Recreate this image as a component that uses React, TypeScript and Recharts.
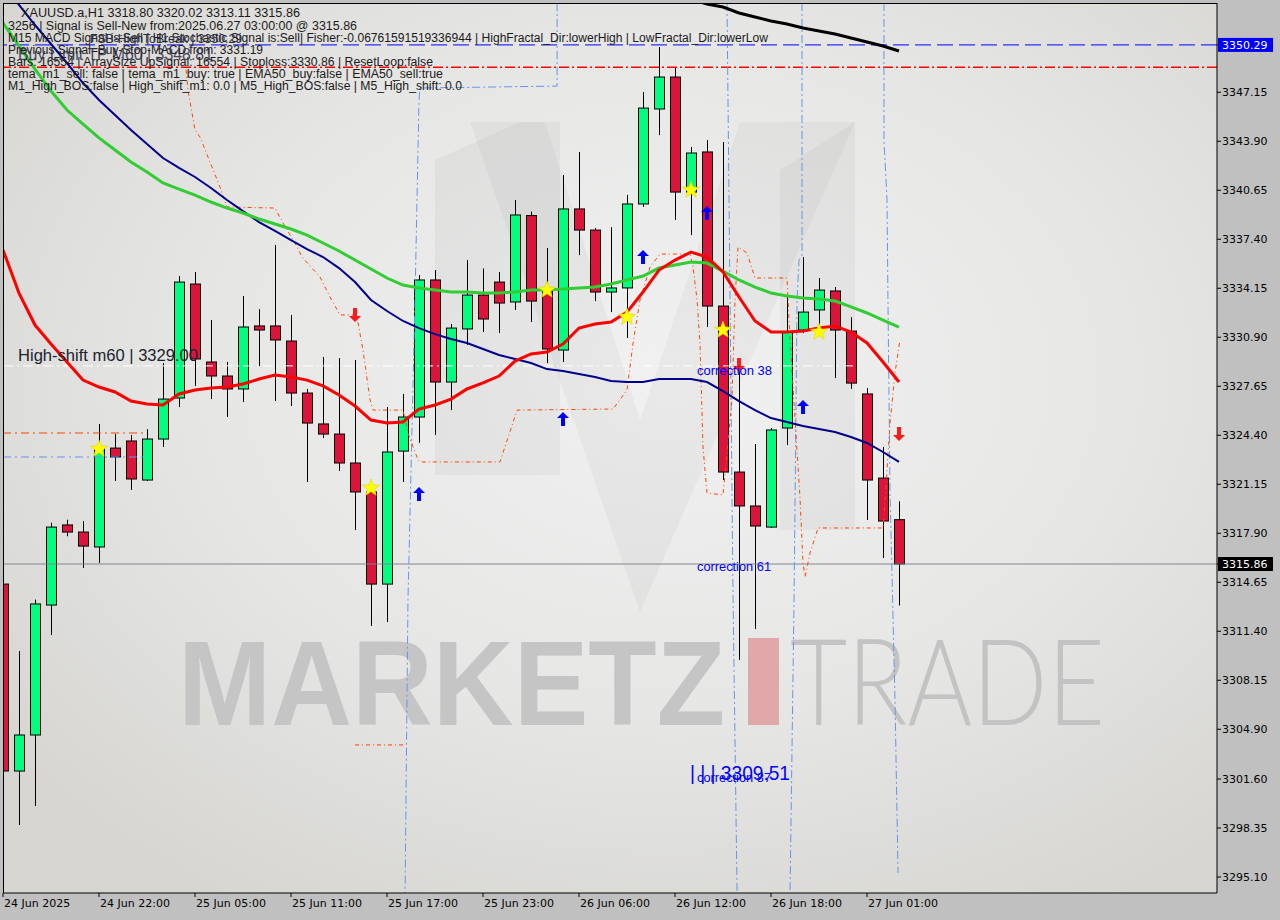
import React from 'react';
import { ComposedChart, Bar, Line, Scatter, XAxis, YAxis, ReferenceLine } from 'recharts';

// XAUUSD.a H1, 24 Jun 16:00 .. 27 Jun 03:00 (57 bars)
const opens = [
  3314.53, 3302.13, 3304.52, 3313.14, 3318.45, 3317.98, 3316.99, 3323.55, 3324.02, 3321.43,
  3324.15, 3326.87, 3334.43, 3329.26, 3328.33, 3327.47, 3331.65, 3331.65, 3330.65, 3327.2,
  3325.15, 3324.48, 3322.56, 3320.64, 3314.53, 3323.35, 3325.61, 3334.7, 3327.93, 3331.45,
  3333.7, 3334.56, 3333.24, 3338.97, 3334.17, 3330.05, 3339.41, 3338.01, 3333.9, 3334.17,
  3339.74, 3346.04, 3348.16, 3340.53, 3343.19, 3332.97, 3321.96, 3319.71, 3318.31, 3324.88,
  3331.38, 3332.71, 3333.97, 3331.31, 3327.14, 3321.56, 3318.8,
];
const highs = [
  3317.92, 3310.09, 3313.5, 3318.6, 3318.8, 3318.71, 3325.15, 3324.48, 3324.42, 3324.81,
  3329.19, 3334.96, 3335.23, 3332.04, 3329.26, 3333.64, 3332.77, 3337.02, 3332.38, 3327.47,
  3329.59, 3329.52, 3329.39, 3321.17, 3326.27, 3327.14, 3335.03, 3335.36, 3331.78, 3336.02,
  3335.46, 3335.23, 3340.0, 3339.24, 3336.82, 3341.66, 3343.19, 3338.15, 3338.21, 3340.34,
  3347.17, 3350.15, 3348.76, 3343.52, 3343.98, 3343.85, 3329.26, 3323.82, 3324.88, 3333.64,
  3336.22, 3334.83, 3334.23, 3332.24, 3327.53, 3323.62, 3320.02,
];
const lows = [
  3295.23, 3298.55, 3299.81, 3311.15, 3317.7, 3315.6, 3315.93, 3321.37, 3320.77, 3321.37,
  3323.62, 3326.27, 3327.67, 3326.8, 3325.61, 3326.6, 3328.99, 3326.67, 3326.34, 3321.3,
  3324.22, 3322.03, 3318.11, 3311.75, 3312.01, 3321.3, 3323.89, 3324.42, 3326.07, 3330.39,
  3331.25, 3331.18, 3332.71, 3331.91, 3329.19, 3329.26, 3336.35, 3333.3, 3332.57, 3330.85,
  3339.54, 3344.31, 3338.68, 3337.68, 3331.58, 3321.43, 3309.49, 3311.55, 3318.25, 3323.75,
  3331.18, 3331.38, 3328.19, 3327.47, 3318.78, 3316.26, 3313.11,
];
const closes = [
  3302.13, 3304.52, 3313.21, 3318.31, 3317.98, 3317.05, 3323.55, 3322.96, 3321.5, 3324.15,
  3326.8, 3334.56, 3329.46, 3328.33, 3327.47, 3331.58, 3331.38, 3330.72, 3327.2, 3325.21,
  3324.48, 3322.56, 3320.64, 3314.53, 3323.29, 3325.61, 3334.7, 3327.93, 3331.51, 3333.7,
  3332.11, 3333.17, 3339.01, 3333.3, 3330.12, 3339.41, 3338.01, 3333.9, 3334.17, 3339.74,
  3346.1, 3348.16, 3340.53, 3343.12, 3332.97, 3321.96, 3319.71, 3318.38, 3324.75, 3331.25,
  3332.57, 3334.03, 3331.38, 3327.86, 3321.43, 3318.71, 3315.86,
];

const emaGreen = [
  3351.74, 3350.22, 3348.69, 3347.23, 3345.97, 3345.04, 3344.12, 3343.32, 3342.52, 3341.86,
  3341.13, 3340.73, 3340.33, 3339.87, 3339.47, 3339.14, 3338.74, 3338.41, 3338.08, 3337.68,
  3337.15, 3336.62, 3336.02, 3335.43, 3334.83, 3334.36, 3334.17, 3334.03, 3333.9, 3333.9,
  3333.83, 3333.83, 3333.9, 3334.03, 3334.03, 3334.1, 3334.17, 3334.23, 3334.43, 3334.7,
  3334.96, 3335.49, 3335.69, 3335.89, 3335.82, 3335.29, 3334.7, 3334.23, 3333.83, 3333.64,
  3333.5, 3333.44, 3333.3, 3332.91, 3332.51, 3332.04, 3331.58,
];
const maNavy = [
  3354.2, 3352.94, 3351.61, 3350.35, 3349.09, 3347.76, 3346.64, 3345.64, 3344.65, 3343.72,
  3342.79, 3342.13, 3341.53, 3340.8, 3340.0, 3339.27, 3338.54, 3337.95, 3337.35, 3336.75,
  3336.22, 3335.49, 3334.56, 3333.37, 3332.64, 3331.98, 3331.51, 3331.11, 3330.78, 3330.52,
  3330.12, 3329.72, 3329.46, 3329.19, 3328.79, 3328.66, 3328.46, 3328.26, 3328.0, 3327.93,
  3327.93, 3328.13, 3328.13, 3328.13, 3327.93, 3327.33, 3326.67, 3326.07, 3325.54, 3325.28,
  3325.01, 3324.81, 3324.62, 3324.28, 3323.89, 3323.29, 3322.63,
];
const emaRed = [
  3336.69, 3333.83, 3331.71, 3330.45, 3329.26, 3328.06, 3327.6, 3327.27, 3326.67, 3326.47,
  3326.41, 3327.14, 3327.4, 3327.53, 3327.6, 3327.8, 3328.13, 3328.4, 3328.26, 3328.06,
  3327.67, 3327.07, 3326.34, 3325.41, 3325.21, 3325.28, 3326.14, 3326.41, 3326.8, 3327.47,
  3327.87, 3328.33, 3329.32, 3329.79, 3329.92, 3330.45, 3331.51, 3331.78, 3331.91, 3332.57,
  3333.9, 3335.36, 3336.02, 3336.55, 3336.22, 3335.23, 3333.57, 3331.98, 3331.25, 3331.25,
  3331.31, 3331.51, 3331.65, 3331.25, 3330.52, 3329.26, 3327.93,
];
const maBlack: (number | null)[] = [
  null, null, null, null, null, null, null, null, null, null,
  null, null, null, null, null, null, null, null, null, null,
  null, null, null, null, null, null, null, null, null, null,
  null, null, null, null, null, null, null, null, null, null,
  null, null, null, 3353.33, 3353.0, 3352.8, 3352.41, 3352.14, 3351.88, 3351.68,
  3351.41, 3351.21, 3351.01, 3350.75, 3350.48, 3350.22, 3349.89,
];

// orange trailing stop (x = bar index, fractional where it steps)
const stopLine = [
  { x: 11.44, y: 3348.63 }, { x: 11.56, y: 3347.3 }, { x: 12.0, y: 3344.65 }, { x: 12.31, y: 3344.18 },
  { x: 13.56, y: 3340.87 }, { x: 14.0, y: 3339.54 }, { x: 17.0, y: 3339.47 }, { x: 17.5, y: 3338.48 },
  { x: 18.38, y: 3336.89 }, { x: 18.69, y: 3336.22 }, { x: 19.81, y: 3334.9 }, { x: 20.44, y: 3333.57 },
  { x: 21.06, y: 3332.38 }, { x: 22.0, y: 3332.38 }, { x: 22.19, y: 3331.85 }, { x: 22.5, y: 3330.05 },
  { x: 22.94, y: 3326.74 }, { x: 23.13, y: 3326.07 }, { x: 25.0, y: 3326.07 }, { x: 25.31, y: 3324.55 },
  { x: 25.94, y: 3322.76 }, { x: 26.06, y: 3322.63 }, { x: 31.06, y: 3322.63 }, { x: 32.13, y: 3326.07 },
  { x: 38.13, y: 3326.14 }, { x: 39.0, y: 3327.4 }, { x: 39.38, y: 3330.52 }, { x: 39.81, y: 3333.37 },
  { x: 40.44, y: 3335.56 }, { x: 41.06, y: 3336.42 }, { x: 42.94, y: 3336.42 }, { x: 43.13, y: 3335.56 },
  { x: 43.38, y: 3333.37 }, { x: 43.56, y: 3330.52 }, { x: 43.75, y: 3323.62 }, { x: 44.0, y: 3320.57 },
  { x: 45.0, y: 3320.44 }, { x: 45.25, y: 3323.22 }, { x: 45.56, y: 3326.74 }, { x: 45.75, y: 3333.37 },
  { x: 45.94, y: 3336.89 }, { x: 46.5, y: 3336.49 }, { x: 47.0, y: 3334.83 }, { x: 49.0, y: 3334.83 },
  { x: 49.19, y: 3330.72 }, { x: 49.81, y: 3320.3 }, { x: 50.0, y: 3315.93 }, { x: 50.13, y: 3315.0 },
  { x: 50.44, y: 3316.59 }, { x: 50.94, y: 3318.25 }, { x: 55.0, y: 3318.25 }, { x: 55.13, y: 3320.11 },
  { x: 55.44, y: 3325.21 }, { x: 55.75, y: 3328.53 }, { x: 56.06, y: 3330.72 },
];
const stopLow = [
  { x: 22.0, y: 3303.86 }, { x: 25.0, y: 3303.86 },
];

// cornflower dash-dot channel edges
const bandA = [
  { x: 34.63, y: 3353.07 }, { x: 34.63, y: 3347.56 }, { x: 26.06, y: 3347.43 }, { x: 26.0, y: 3346.64 },
  { x: 25.75, y: 3333.37 }, { x: 25.31, y: 3313.47 }, { x: 25.13, y: 3294.04 },
];
const bandB = [
  { x: 45.25, y: 3353.07 }, { x: 45.44, y: 3333.37 }, { x: 45.63, y: 3313.47 }, { x: 45.88, y: 3294.04 },
];
const bandC = [
  { x: 49.94, y: 3353.07 }, { x: 49.94, y: 3336.36 }, { x: 49.75, y: 3336.02 }, { x: 49.63, y: 3333.37 },
  { x: 49.44, y: 3313.47 }, { x: 49.19, y: 3294.04 },
];
const bandD = [
  { x: 55.06, y: 3353.07 }, { x: 55.06, y: 3343.98 }, { x: 55.25, y: 3340.0 }, { x: 55.31, y: 3333.37 },
  { x: 55.44, y: 3320.57 }, { x: 55.63, y: 3312.15 }, { x: 55.75, y: 3306.84 }, { x: 55.94, y: 3295.37 },
];

const stars = [
  { x: 6, y: 3323.49 }, { x: 23, y: 3320.9 }, { x: 34, y: 3334.03 }, { x: 39, y: 3332.24 },
  { x: 43, y: 3340.67 }, { x: 45, y: 3331.38 }, { x: 51, y: 3331.25 },
];
const upArrows = [
  { x: 26, y: 3320.5 }, { x: 35, y: 3325.48 }, { x: 40, y: 3336.22 }, { x: 44, y: 3339.14 }, { x: 50, y: 3326.27 },
];
const downArrows = [
  { x: 22, y: 3332.38 }, { x: 46, y: 3329.06 }, { x: 56, y: 3324.48 },
];

const fsbHigh = 3350.29;
const buyLimitTp = 3348.81;
const highShift = 3329.0;
const lastPrice = 3315.86;
const leftOrange = 3324.55;
const leftBlue = 3322.96;

const yTicks = [
  3350.29, 3347.15, 3343.9, 3340.65, 3337.4, 3334.15, 3330.9, 3327.65, 3324.4, 3321.15,
  3317.9, 3315.86, 3314.65, 3311.4, 3308.15, 3304.9, 3301.6, 3298.35, 3295.1,
];
const xTickIdx = [0, 6, 12, 18, 24, 30, 36, 42, 48, 54];
const xTickLabels = [
  '24 Jun 2025', '24 Jun 22:00', '25 Jun 05:00', '25 Jun 11:00', '25 Jun 17:00',
  '25 Jun 23:00', '26 Jun 06:00', '26 Jun 12:00', '26 Jun 18:00', '27 Jun 01:00',
];

const infoLines = [
  'XAUUSD.a,H1  3318.80 3320.02 3313.11 3315.86',
  '3256 | Signal is Sell-New from:2025.06.27 03:00:00 @ 3315.86',
  'M15 MACD Signal is:Sell | H1 Stochastic Signal is:Sell| Fisher:-0.06761591519336944 | HighFractal_Dir:lowerHigh | LowFractal_Dir:lowerLow',
  'Previous Signal=Buy-Stop-MACD from: 3331.19',
  'Bars: 16554 | ArraySize UpSignal: 16554 | Stoploss:3330.86 | ResetLoop:false',
  'tema_m1_sell: false | tema_m1_buy: true | EMA50_buy:false | EMA50_sell:true',
  'M1_High_BOS:false | High_shift_m1: 0.0 | M5_High_BOS:false | M5_High_shift: 0.0',
];
const infoSpans = [[21, 300], [8, 357], [8, 768], [8, 263], [8, 433], [8, 443], [8, 462]];

const candles = opens.map((o, i) => ({
  x: i,
  o,
  h: highs[i],
  l: lows[i],
  c: closes[i],
  hl: [lows[i], highs[i]],
  green: emaGreen[i],
  navy: maNavy[i],
  red: emaRed[i],
  black: maBlack[i],
}));

const Candle = (props: any) => {
  const { x, y, width, height, payload } = props;
  if (!payload || height == null) return null;
  const { o, h, l, c } = payload;
  const k = height / (h - l);
  const yo = y + (h - o) * k;
  const yc = y + (h - c) * k;
  const top = Math.min(yo, yc);
  const bh = Math.max(Math.abs(yc - yo), 1);
  const cx = Math.round(x + width / 2) + 0.5;
  return (
    <g>
      <line x1={cx} x2={cx} y1={y} y2={y + height} stroke="#000" strokeWidth={1} />
      <rect x={cx - 5} y={top} width={10} height={bh} fill={c >= o ? '#00FF7F' : '#DC143C'} stroke="#000" strokeWidth={1} />
    </g>
  );
};

const StarMark = (props: any) => {
  const { cx, cy } = props;
  const pts: string[] = [];
  for (let k = 0; k < 10; k++) {
    const r = k % 2 === 0 ? 9 : 3.8;
    const a = -Math.PI / 2 + (k * Math.PI) / 5;
    pts.push(`${cx + r * Math.cos(a)},${cy + r * Math.sin(a)}`);
  }
  return <polygon points={pts.join(' ')} fill="#FFFF00" stroke="#E6D200" strokeWidth={0.6} />;
};

const UpArrow = (props: any) => {
  const { cx, cy } = props;
  return (
    <path
      d={`M${cx},${cy - 7} L${cx + 6},${cy - 1} L${cx + 2},${cy - 1} L${cx + 2},${cy + 7} L${cx - 2},${cy + 7} L${cx - 2},${cy - 1} L${cx - 6},${cy - 1} Z`}
      fill="#0000FF"
    />
  );
};

const DownArrow = (props: any) => {
  const { cx, cy } = props;
  return (
    <path
      d={`M${cx},${cy + 7} L${cx + 6},${cy + 1} L${cx + 2},${cy + 1} L${cx + 2},${cy - 7} L${cx - 2},${cy - 7} L${cx - 2},${cy + 1} L${cx - 6},${cy + 1} Z`}
      fill="#FF1A1A"
    />
  );
};

const PriceTick = (props: any) => {
  const { x, y, payload } = props;
  const v = payload.value;
  const box = v === fsbHigh ? '#0000FF' : v === lastPrice ? '#000000' : null;
  return (
    <g>
      {box && <rect x={x - 4} y={y - 7} width={55} height={14} fill={box} />}
      <text x={x} y={y + 4} fontSize={11} fontFamily="DejaVu Sans" fill={box ? '#FFFFFF' : '#000000'}>
        {v.toFixed(2)}
      </text>
    </g>
  );
};

const TimeTick = (props: any) => {
  const { x, y, payload } = props;
  const idx = xTickIdx.indexOf(payload.value);
  return (
    <text x={x + 1} y={y + 10} fontSize={11} fontFamily="DejaVu Sans" fill="#000000">
      {xTickLabels[idx]}
    </text>
  );
};

export default function App() {
  return (
    <div style={{ position: 'absolute', left: 0, top: 0, width: 1280, height: 920, background: '#C0C0C0', overflow: 'hidden' }}>
      <svg width={1280} height={920} style={{ position: 'absolute', left: 0, top: 0 }}>
        <defs>
          <radialGradient id="bg" cx="0.55" cy="0.42" r="0.7">
            <stop offset="0" stopColor="#F1F1F1" />
            <stop offset="0.55" stopColor="#E6E6E5" />
            <stop offset="1" stopColor="#D6D5D1" />
          </radialGradient>
        </defs>
        <rect x={3} y={3} width={1214} height={890} fill="url(#bg)" />
        <polygon points="435,160 520,122 560,122 560,475 435,475" fill="#000" fillOpacity={0.035} />
        <polygon points="470,122 545,122 640,420 740,122 855,122 640,612" fill="#000" fillOpacity={0.03} />
        <polygon points="780,170 855,122 855,530 780,530" fill="#000" fillOpacity={0.035} />
        <text x={178} y={725} fontSize={121} fontWeight={700} fontFamily="Liberation Sans" fill="#C5C5C5" textLength={547} lengthAdjust="spacingAndGlyphs">
          MARKETZ
        </text>
        <rect x={748} y={638} width={31} height={87} fill="#E0A9A9" />
        <text x={790} y={725} fontSize={121} fontWeight={300} fontFamily="Lato" fill="#C3C3C3" textLength={315} lengthAdjust="spacingAndGlyphs">
          TRADE
        </text>
      </svg>

      <div style={{ position: 'absolute', left: 0, top: 0 }}>
        <ComposedChart width={1280} height={920} data={candles} margin={{ top: 3, right: 0, bottom: 0, left: 3 }}>
          <XAxis
            type="number"
            dataKey="x"
            domain={[0, 75.875]}
            allowDataOverflow
            ticks={xTickIdx}
            interval={0}
            height={27}
            tickSize={4}
            tickMargin={0}
            tick={<TimeTick />}
            stroke="#000000"
          />
          <YAxis
            orientation="right"
            domain={[3294.04, 3353.07]}
            allowDataOverflow
            ticks={yTicks}
            interval={0}
            width={63}
            tickSize={4}
            tickMargin={1}
            tick={<PriceTick />}
            stroke="#000000"
          />
          <ReferenceLine y={lastPrice} stroke="#808890" strokeWidth={1} />
          <ReferenceLine y={fsbHigh} stroke="#0000FF" strokeWidth={1} strokeDasharray="16 6" />
          <ReferenceLine y={buyLimitTp} stroke="#FF0000" strokeWidth={1.3} strokeDasharray="10 3 2 3" />
          <ReferenceLine segment={[{ x: 0, y: highShift }, { x: 53.4, y: highShift }]} stroke="#FFFFFF" strokeWidth={1} strokeDasharray="10 4 2 4" />
          <ReferenceLine segment={[{ x: 0, y: leftOrange }, { x: 8.9, y: leftOrange }]} stroke="#FF4500" strokeWidth={1} strokeDasharray="8 4 2 4" />
          <ReferenceLine segment={[{ x: 0, y: leftBlue }, { x: 8.9, y: leftBlue }]} stroke="#6495ED" strokeWidth={1} strokeDasharray="8 4 2 4" />
          <Bar dataKey="hl" barSize={11} shape={<Candle />} isAnimationActive={false} />
          <Line data={bandA} dataKey="y" stroke="#6495ED" strokeWidth={1} strokeDasharray="8 3 2 3" dot={false} isAnimationActive={false} />
          <Line data={bandB} dataKey="y" stroke="#6495ED" strokeWidth={1} strokeDasharray="8 3 2 3" dot={false} isAnimationActive={false} />
          <Line data={bandC} dataKey="y" stroke="#6495ED" strokeWidth={1} strokeDasharray="8 3 2 3" dot={false} isAnimationActive={false} />
          <Line data={bandD} dataKey="y" stroke="#6495ED" strokeWidth={1} strokeDasharray="8 3 2 3" dot={false} isAnimationActive={false} />
          <Line data={stopLine} dataKey="y" stroke="#FF4500" strokeWidth={1} strokeDasharray="4 3 1 3" dot={false} isAnimationActive={false} />
          <Line data={stopLow} dataKey="y" stroke="#FF4500" strokeWidth={1} strokeDasharray="4 3 1 3" dot={false} isAnimationActive={false} />
          <Line dataKey="navy" stroke="#00008B" strokeWidth={2} dot={false} isAnimationActive={false} />
          <Line dataKey="green" stroke="#32CD32" strokeWidth={3} dot={false} isAnimationActive={false} />
          <Line dataKey="red" stroke="#FF0000" strokeWidth={3} dot={false} isAnimationActive={false} />
          <Line dataKey="black" stroke="#000000" strokeWidth={3} dot={false} isAnimationActive={false} />
          <Scatter data={stars} dataKey="y" shape={(p: any) => <StarMark {...p} />} isAnimationActive={false} />
          <Scatter data={upArrows} dataKey="y" shape={(p: any) => <UpArrow {...p} />} isAnimationActive={false} />
          <Scatter data={downArrows} dataKey="y" shape={(p: any) => <DownArrow {...p} />} isAnimationActive={false} />
        </ComposedChart>
      </div>

      <svg width={1280} height={920} style={{ position: 'absolute', left: 0, top: 0, pointerEvents: 'none' }}>
        <line x1={3.5} y1={3} x2={3.5} y2={893} stroke="#000" strokeWidth={1} />
        <line x1={3} y1={3.5} x2={1217} y2={3.5} stroke="#000" strokeWidth={1} />
        {infoLines.map((t, i) => (
          <text
            key={i}
            x={infoSpans[i][0]}
            y={17 + i * 12 + (i > 0 ? 1 : 0)}
            fontSize={12}
            fontFamily="Liberation Sans"
            fill="#1A1A1A"
            textLength={infoSpans[i][1] - infoSpans[i][0]}
            lengthAdjust="spacingAndGlyphs"
          >
            {t}
          </text>
        ))}
        <text x={90} y={43} fontSize={13} fontFamily="Liberation Sans" fill="#2A2A44" textLength={152} lengthAdjust="spacingAndGlyphs">
          FSB-HighToBreak | 3350.29
        </text>
        <text x={18} y={60} fontSize={17} fontFamily="Liberation Sans" fill="#2A2A44" fillOpacity={0.85} textLength={195} lengthAdjust="spacingAndGlyphs">
          Buy Limit TP M60 | 3348.81
        </text>
        <text x={18} y={361} fontSize={17} fontFamily="Liberation Sans" fill="#1C2230" textLength={180} lengthAdjust="spacingAndGlyphs">
          High-shift m60 | 3329.00
        </text>
        <text x={697} y={375} fontSize={12} fontFamily="Liberation Sans" fill="#0000FF" textLength={75} lengthAdjust="spacingAndGlyphs">
          correction 38
        </text>
        <text x={697} y={571} fontSize={12} fontFamily="Liberation Sans" fill="#0000FF" textLength={74} lengthAdjust="spacingAndGlyphs">
          correction 61
        </text>
        <text x={690} y={780} fontSize={21} fontFamily="Liberation Sans" fill="#0000FF" textLength={100} lengthAdjust="spacingAndGlyphs">
          | | | 3309.51
        </text>
        <text x={697} y={782} fontSize={12} fontFamily="Liberation Sans" fill="#0000FF" textLength={74} lengthAdjust="spacingAndGlyphs">
          correction 87
        </text>
      </svg>
    </div>
  );
}
